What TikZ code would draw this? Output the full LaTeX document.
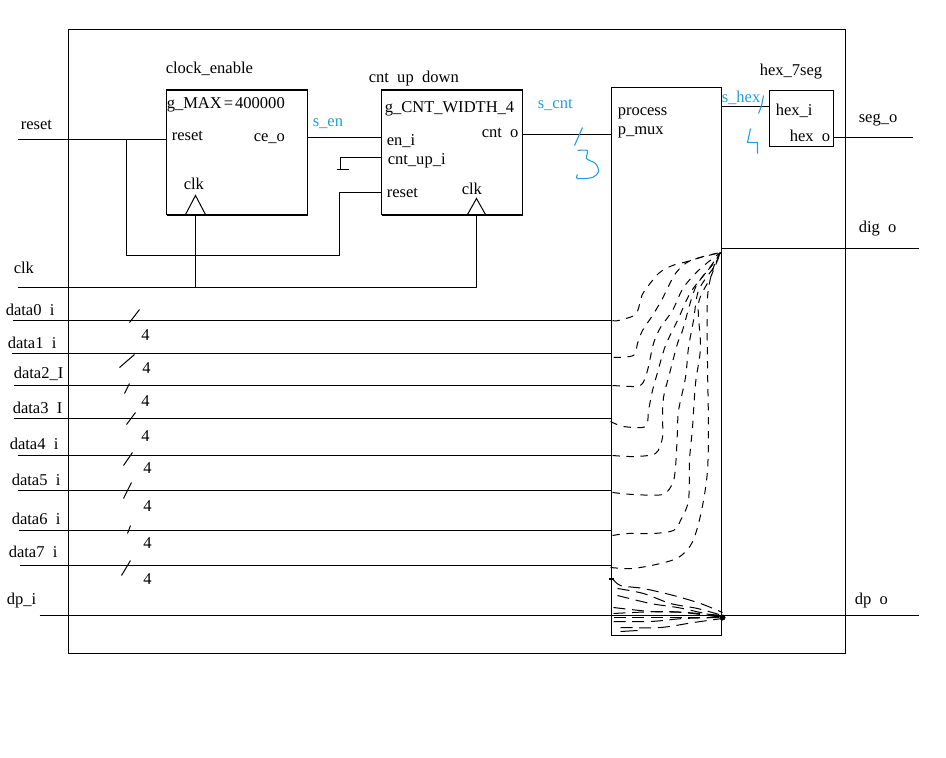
\documentclass[tikz,border=0pt]{standalone}
\usepackage{fontspec}
\setmainfont{Liberation Serif}
\definecolor{sigblue}{HTML}{1FA0E0}
\newcommand\hidu{\textcolor{white}{\_}}
\tikzset{
  wire/.style={draw=black,line width=0.75pt},
  thickedge/.style={draw=black,line width=1.5pt},
  dashwire/.style={draw=black,line width=0.75pt,dash pattern=on 5.5pt off 5pt},
  dashfan/.style={draw=black,line width=0.75pt,dash pattern=on 9pt off 5pt},
  blockbox/.style={draw=black,line width=0.75pt,fill=white,inner sep=0pt,outer sep=0pt,anchor=north west},
  lab/.style={inner sep=0pt,anchor=base west,font=\fontsize{12.4}{14}\selectfont},
  siglab/.style={lab,text=sigblue},
  hand/.style={draw=sigblue,line width=0.8pt,line join=round}
}
\begin{document}
\begin{tikzpicture}[x=0.75pt,y=-0.75pt]
\useasboundingbox (0,0) rectangle (946,757);
\fill[white] (0,0) rectangle (946,757);
\begin{scope}[shift={(0.5,0.5)}]
% outer frame and blocks
\node[blockbox,fill=none,minimum width=582.75pt,minimum height=468pt] (frame) at (68,29) {};
\node[blockbox,minimum width=105.75pt,minimum height=93.75pt] (ce) at (166,89) {};
\node[blockbox,minimum width=105.75pt,minimum height=93.75pt] (cnt) at (381,89) {};
\node[blockbox,minimum width=82.5pt,minimum height=411pt] (mux) at (611,87) {};
\node[blockbox,minimum width=48pt,minimum height=42pt] (hex) at (769,90) {};
\draw[thickedge] (ce.north west) -- (ce.north east);
\draw[thickedge] (ce.south west) -- (ce.south east);
\draw[thickedge] (cnt.north west) -- (cnt.north east);
\draw[thickedge] (cnt.south west) -- (cnt.south east);
% named points
\coordinate (rstin) at (17,139);
\coordinate (rstce) at (166,139);
\coordinate (rstj) at (126,139);
\coordinate (rstlow) at (126,255);
\coordinate (rstmid) at (339,255);
\coordinate (rstup) at (339,192);
\coordinate (rstcnt) at (381,192);
\coordinate (upi) at (381,157);
\coordinate (upgnd) at (340,157);
\coordinate (gndj) at (340,169);
\coordinate (gndl) at (336,169);
\coordinate (gndr) at (348,169);
\coordinate (clkin) at (17,287);
\coordinate (clka) at (195,287);
\coordinate (clkb) at (476,287);
\coordinate (clkat) at (195,214);
\coordinate (clkbt) at (476,214);
\coordinate (enl) at (307,137);
\coordinate (enr) at (381,137);
\coordinate (cntl) at (522,134);
\coordinate (cntr) at (611,134);
\coordinate (hexl) at (721,106);
\coordinate (hexr) at (769,106);
\coordinate (segl) at (833,137);
\coordinate (segr) at (912,137);
\coordinate (digl) at (721,248);
\coordinate (digr) at (918,248);
\coordinate (dpl) at (39,615);
\coordinate (dpr) at (918,615);
% wires
\draw[wire] (rstin) -- (rstce);
\draw[wire] (rstj) -- (rstlow) -- (rstmid) -- (rstup) -- (rstcnt);
\draw[wire] (upi) -- (upgnd) -- (gndj);
\draw[wire] (gndl) -- (gndr);
\draw[wire] (clkin) -- (clkb) -- (clkbt);
\draw[wire] (clka) -- (clkat);
\draw[wire] (enl) -- (enr);
\draw[wire] (cntl) -- (cntr);
\draw[wire] (hexl) -- (hexr);
\draw[wire] (segl) -- (segr);
\draw[wire] (digl) -- (digr);
\draw[wire] (dpl) -- (dpr);
% clock triangles
\draw[wire] (185,214) -- (195,195) -- (205,214);
\draw[wire] (467,214) -- (476,198) -- (485,214);
% data buses
\foreach \n/\xa/\yy/\sxa/\sya/\sxb/\syb/\fx/\fy in {
 0/12/320/129/322/139/309/145/335,
 1/11/353/119/367/134/354/146/368,
 2/13/385/124/393/129/383/145/401,
 3/13/418/126/424/135/412/145/436,
 4/17/455/123/465/132/452/147/468,
 5/17/490/123/498/131/482/147/506,
 6/18/530/127/533/130/525/147/543,
 7/19/565/121/575/130/560/147/579}{
  \coordinate (din\n) at (\xa,\yy);
  \coordinate (dend\n) at (611,\yy);
  \draw[wire] (din\n) -- (dend\n);
  \draw[wire] (\sxa,\sya) -- (\sxb,\syb);
  \node[lab,anchor=center] (four\n) at (\fx,\fy) {4};
}
% dashed routes to dig_o
\draw[dashwire] plot[smooth,tension=0.5] coordinates {(612,320)(618,320)(635,314)(640,300)(643,292)(658,273)(672,265)(687,261)(700,257)(720,252)};
\draw[dashwire] plot[smooth,tension=0.5] coordinates {(613,357)(633,355)(637,343)(642,330)(652,315)(662,298)(675,273)(690,260)(720,252)};
\draw[dashwire] plot[smooth,tension=0.5] coordinates {(612,385)(635,386)(642,383)(647,370)(653,343)(660,327)(672,310)(683,287)(700,268)(720,252)};
\draw[dashwire] plot[smooth,tension=0.5] coordinates {(610,421)(623,426)(645,426)(648,410)(652,390)(657,372)(665,345)(677,320)(690,292)(707,270)(720,252)};
\draw[dashwire] plot[smooth,tension=0.5] coordinates {(612,455)(633,456)(655,453)(662,437)(662,417)(663,397)(668,377)(677,343)(682,330)(695,287)(713,263)(720,252)};
\draw[dashwire] plot[smooth,tension=0.5] coordinates {(612,492)(633,494)(662,494)(672,483)(675,467)(677,430)(678,410)(685,377)(688,347)(693,320)(698,290)(713,267)(720,252)};
\draw[dashwire] plot[smooth,tension=0.5] coordinates {(612,535)(627,533)(653,533)(673,530)(680,520)(688,500)(689,460)(692,427)(695,383)(700,347)(698,303)(710,277)(720,252)};
\draw[dashwire] plot[smooth,tension=0.5] coordinates {(610,567)(632,568)(660,563)(678,557)(690,545)(697,527)(703,500)(707,470)(708,427)(707,363)(707,297)(713,267)(720,252)};
% dashed routes to dp_o
\draw[dashfan] plot[smooth,tension=0.5] coordinates {(612,578)(620,585)(643,588)(673,595)(700,603)(722,612)};
\draw[dashfan] plot[smooth,tension=0.5] coordinates {(617,588)(643,593)(670,603)(697,608)(722,615)};
\draw[dashfan] plot[smooth,tension=0.5] coordinates {(617,595)(650,603)(677,607)(700,612)(722,617)};
\draw[dashfan] plot[smooth,tension=0.5] coordinates {(613,607)(650,611)(683,612)(722,617)};
\draw[dashfan] plot[smooth,tension=0.5] coordinates {(613,613)(667,611)(722,615)};
\draw[dashfan] plot[smooth,tension=0.5] coordinates {(613,617)(660,617)(722,617)};
\draw[dashfan] plot[smooth,tension=0.5] coordinates {(613,621)(650,621)(683,618)(722,617)};
\draw[dashfan] plot[smooth,tension=0.5] coordinates {(620,627)(660,627)(693,622)(722,618)};
\draw[wire] (620,631) -- (637,630);
\fill (722,617) circle[radius=3];
\fill (608,577.5) rectangle (613,579);
% hand-drawn blue marks
\draw[hand] (574,145) -- (582,127);
\draw[hand] plot[smooth,tension=0.5] coordinates {(577,150)(587,150)(586,158)(595,163)(598,171)(592,177)(577,178)(577,174)};
\draw[hand] plot[smooth,tension=0.4] coordinates {(758,113)(761,105)(763,95)};
\draw[hand] (750,128) -- (747,142) -- (757,142) -- (757,153);
% block labels
\node[lab] (tce) at (165,73) {clock\_enable};
\node[lab] (tcnt) at (368,82) {cnt\hidu up\hidu down};
\node[lab] (gmax) at (166,108) {g\_MAX\kern1.5pt=\kern1.5pt400000};
\node[lab] (pr1) at (171,140) {reset};
\node[lab] (pceo) at (253,141) {ce\_o};
\node[lab] (pclk1) at (183,189) {clk};
\node[lab] (gcnt) at (384,112) {g\_CNT\_WIDTH\_4};
\node[lab] (pen) at (386,145) {en\_i};
\node[lab] (pup) at (387,164) {cnt\_up\_i};
\node[lab] (pr2) at (386,197) {reset};
\node[lab] (pclk2) at (461,194) {clk};
\node[lab] (pcnt) at (481,137) {cnt\hidu o};
\node[lab] (tpr) at (617,115) {process};
\node[lab] (tmux) at (617,134) {p\_mux};
\node[lab] (thex) at (759,75) {hex\_7seg};
\node[lab] (phi) at (775,115) {hex\_i};
\node[lab] (pho) at (789,141) {hex\hidu o};
% signal labels
\node[siglab] (sen) at (312,126) {s\_en};
\node[siglab] (scnt) at (537,108) {s\_cnt};
\node[siglab] (shex) at (721,102) {s\_hex};
% port labels
\node[lab] (lrst) at (20,129) {reset};
\node[lab] (lclk) at (13,273) {clk};
\node[lab] (ld0) at (5,315) {data0\hidu i};
\node[lab] (ld1) at (7,348) {data1\hidu i};
\node[lab] (ld2) at (13,378) {data2\_I};
\node[lab] (ld3) at (12,413) {data3\hidu I};
\node[lab] (ld4) at (9,449) {data4\hidu i};
\node[lab] (ld5) at (11,485) {data5\hidu i};
\node[lab] (ld6) at (11,524) {data6\hidu i};
\node[lab] (ld7) at (8,557) {data7\hidu i};
\node[lab] (ldp) at (6,604) {dp\_i};
\node[lab] (lseg) at (858,122) {seg\_o};
\node[lab] (ldig) at (858,232) {dig\hidu o};
\node[lab] (ldpo) at (854,604) {dp\hidu o};
\end{scope}
\end{tikzpicture}
\end{document}
